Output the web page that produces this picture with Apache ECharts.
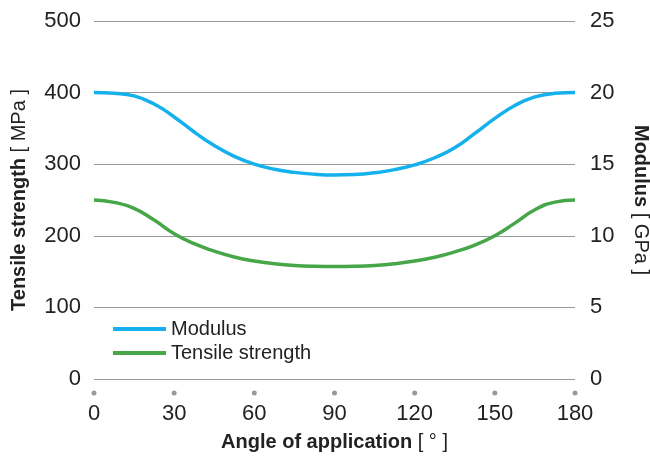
<!DOCTYPE html>
<html>
<head>
<meta charset="utf-8">
<script src="https://cdn.jsdelivr.net/npm/echarts@6/dist/echarts.min.js"></script>
<style>
  html, body { margin: 0; padding: 0; background: #fff; }
  #main { width: 650px; height: 459px; }
</style>
</head>
<body>
<div id="main"></div>
<script>
// angle of application in degrees
const angles = [0, 7.5, 15, 22.5, 30, 37.5, 45, 52.5, 60, 67.5, 75, 82.5, 90,
  97.5, 105, 112.5, 120, 127.5, 135, 142.5, 150, 157.5, 165, 172.5, 180];
// Modulus [GPa], right axis
const modulus = [20, 19.95, 19.77, 19.2, 18.3, 17.25, 16.3, 15.55, 15.0, 14.65, 14.43, 14.3, 14.25,
  14.28, 14.4, 14.62, 14.95, 15.45, 16.15, 17.15, 18.2, 19.1, 19.7, 19.95, 20];
// Tensile strength [MPa], left axis
const tensile = [250, 246.7, 238.3, 222, 203, 189, 178.6, 170.3, 164.7, 161, 158.6, 157.5, 157.2,
  157.5, 158.6, 161, 164.7, 170, 177.5, 187, 200, 217.7, 236.4, 247, 250];

const textColor = '#222';
const font = 'Liberation Sans';

let chart = echarts.init(document.getElementById('main'));

const nameStyle = {
  fontSize: 20, color: textColor,
  rich: { b: { fontSize: 20, fontWeight: 'bold', color: textColor } }
};

const option = {
  animation: false,
  textStyle: { fontFamily: font },
  grid: { left: 94, right: 75, top: 21, bottom: 80, outerBoundsMode: 'none' },
  legend: {
    orient: 'vertical',
    left: 108,
    top: 314,
    itemWidth: 53,
    itemHeight: 4,
    itemGap: 4,
    icon: 'rect',
    textStyle: { fontSize: 20, color: textColor, fontFamily: font },
    data: ['Modulus', 'Tensile strength']
  },
  xAxis: {
    type: 'value',
    min: 0,
    max: 180,
    interval: 30,
    name: '{b|Angle of application} [ ° ]',
    nameLocation: 'middle',
    nameGap: 53,
    nameTextStyle: nameStyle,
    axisLine: { show: false },
    axisTick: { show: false },
    splitLine: { show: false },
    axisLabel: {
      margin: 10,
      formatter: v => '{dot|}\n{v|' + v + '}',
      rich: {
        dot: { width: 5, height: 5, borderRadius: 3, backgroundColor: '#999', lineHeight: 8 },
        v: { fontSize: 22, color: textColor, lineHeight: 34 }
      }
    }
  },
  yAxis: [
    {
      type: 'value',
      min: 0,
      max: 500,
      interval: 100,
      name: '{b|Tensile strength} [ MPa ]',
      nameLocation: 'middle',
      nameGap: 65,
      nameRotate: 90,
      nameTextStyle: nameStyle,
      axisLine: { show: false },
      axisTick: { show: false },
      axisLabel: { margin: 13, fontSize: 22, color: textColor },
      splitLine: { lineStyle: { color: '#999', width: 1 } }
    },
    {
      type: 'value',
      min: 0,
      max: 25,
      interval: 5,
      name: '{b|Modulus} [ GPa ]',
      nameLocation: 'middle',
      nameGap: 56,
      nameRotate: -90,
      nameTextStyle: nameStyle,
      axisLine: { show: false },
      axisTick: { show: false },
      axisLabel: { margin: 15, fontSize: 22, color: textColor },
      splitLine: { show: false }
    }
  ],
  series: [
    {
      name: 'Modulus',
      type: 'line',
      yAxisIndex: 1,
      smooth: true,
      showSymbol: false,
      symbol: 'none',
      color: '#14b1ec',
      lineStyle: { width: 3.5, color: '#14b1ec' },
      data: angles.map((a, i) => [a, modulus[i]])
    },
    {
      name: 'Tensile strength',
      type: 'line',
      yAxisIndex: 0,
      smooth: true,
      showSymbol: false,
      symbol: 'none',
      color: '#46a648',
      lineStyle: { width: 3.5, color: '#46a648' },
      data: angles.map((a, i) => [a, tensile[i]])
    }
  ]
};

chart.setOption(option);
</script>
</body>
</html>
